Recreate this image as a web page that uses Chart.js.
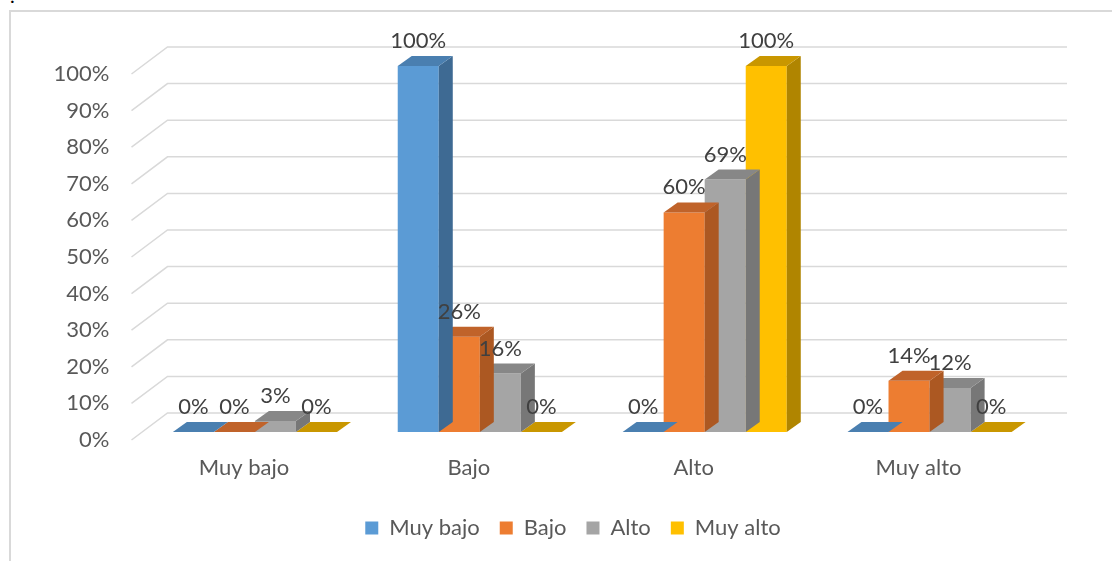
<!DOCTYPE html>
<html>
<head>
<meta charset="utf-8">
<script src="https://cdn.jsdelivr.net/npm/chart.js@4.4.0/dist/chart.umd.min.js"></script>
<style>
  html, body { margin: 0; padding: 0; background: #fff; overflow: hidden; }
  body { width: 1112px; height: 561px; position: relative; }
  #wrap { position: absolute; left: 0; top: 0; width: 1146px; height: 561px; }
  #frame { position: absolute; left: 9px; top: 10px; width: 1200px; height: 600px;
           border-left: 2px solid #d9d9d9; border-top: 2px solid #d9d9d9; }
  #dot { position: absolute; left: 10px; top: -17px; font: 20px Lato; color: #000; }
</style>
</head>
<body>
<div id="frame"></div>
<span id="dot">.</span>
<div id="wrap"><canvas id="chart" width="1146" height="561"></canvas></div>
<script>
const categories = ["Muy bajo", "Bajo", "Alto", "Muy alto"];
const seriesNames = ["Muy bajo", "Bajo", "Alto", "Muy alto"];
const muyBajo = [0, 100, 0, 0];
const bajo = [0, 26, 60, 14];
const alto = [3, 16, 69, 12];
const muyAlto = [0, 0, 100, 0];
const yTicks = [0, 10, 20, 30, 40, 50, 60, 70, 80, 90, 100];

const frontColors = ["#5b9bd5", "#ed7d31", "#a5a5a5", "#ffc000"];
const topColors = ["#4a7fb0", "#c0632a", "#878787", "#c99700"];
const sideColors = ["#3e6a93", "#ac5822", "#777777", "#b08500"];

const FONT = { family: "Lato", size: 22 };

// depth of each bar, and where the front / back walls sit relative to the bars
const DX = 14, DY = 10;

/* --------------------------------------
   3D LOOK: walls, bar tops/sides, labels
-------------------------------------- */
const fake3d = {
  id: "fake3d",
  beforeDatasetsDraw(chart) {
    const { ctx, chartArea, scales: { y } } = chart;
    ctx.save();
    ctx.strokeStyle = "#d9d9d9";
    ctx.lineWidth = 1.5;
    yTicks.forEach((v) => {
      const py = y.getPixelForValue(v);
      ctx.beginPath();
      ctx.moveTo(chartArea.left - 11, py + 8);
      ctx.lineTo(chartArea.left + 25, py - 19);
      ctx.lineTo(chartArea.right + 25, py - 19);
      ctx.stroke();
    });
    ctx.restore();
  },
  afterDatasetDraw(chart, args) {
    const { ctx } = chart;
    const i = args.index;
    ctx.save();
    args.meta.data.forEach((bar) => {
      const l = bar.x - bar.width / 2;
      const r = bar.x + bar.width / 2;
      const t = bar.y;
      const b = bar.base;

      ctx.fillStyle = sideColors[i];
      ctx.beginPath();
      ctx.moveTo(r, t);
      ctx.lineTo(r + DX, t - DY);
      ctx.lineTo(r + DX, b - DY);
      ctx.lineTo(r, b);
      ctx.closePath();
      ctx.fill();

      ctx.fillStyle = topColors[i];
      ctx.beginPath();
      ctx.moveTo(l, t);
      ctx.lineTo(l + DX, t - DY);
      ctx.lineTo(r + DX, t - DY);
      ctx.lineTo(r, t);
      ctx.closePath();
      ctx.fill();
    });
    ctx.restore();
  },
  afterDatasetsDraw(chart) {
    const { ctx } = chart;
    ctx.save();
    ctx.font = FONT.size + "px " + FONT.family;
    ctx.fillStyle = "#404040";
    ctx.textAlign = "center";
    ctx.textBaseline = "middle";
    chart.data.datasets.forEach((ds, i) => {
      chart.getDatasetMeta(i).data.forEach((bar, j) => {
        ctx.fillText(ds.data[j] + "%", bar.x, bar.y - 25);
      });
    });
    ctx.restore();
  },
};

const seriesData = [muyBajo, bajo, alto, muyAlto];

new Chart(document.getElementById("chart"), {
  type: "bar",
  data: {
    labels: categories,
    datasets: seriesNames.map((name, i) => ({
      label: name,
      data: seriesData[i],
      backgroundColor: frontColors[i],
      borderWidth: 0,
      barPercentage: 1,
      categoryPercentage: 0.73,
    })),
  },
  options: {
    responsive: false,
    animation: false,
    layout: { padding: { left: 0, right: 0, top: 66, bottom: 12 } },
    plugins: {
      tooltip: { enabled: false },
      legend: {
        position: "bottom",
        labels: {
          boxWidth: 13,
          boxHeight: 13,
          padding: 20,
          color: "#595959",
          font: FONT,
        },
      },
    },
    scales: {
      x: {
        grid: { display: false, drawTicks: false, tickLength: 0 },
        border: { display: false },
        ticks: {
          color: "#595959",
          font: FONT,
          padding: 23,
          labelOffset: -11,
        },
        afterFit: (scale) => { scale.height = 65; },
      },
      y: {
        min: 0,
        max: 100,
        grid: { display: false, drawTicks: false, tickLength: 0 },
        border: { display: false },
        ticks: {
          stepSize: 10,
          color: "#595959",
          font: FONT,
          padding: 33,
          labelOffset: 8,
          callback: (v) => v + "%",
        },
        afterFit: (scale) => { scale.width = 142.5; },
      },
      // empty right-hand space so the legend stays centred on the whole frame
      spacer: {
        position: "right",
        grid: { display: false, drawTicks: false },
        border: { display: false },
        ticks: { display: false },
        afterFit: (scale) => { scale.width = 104; },
      },
    },
  },
  plugins: [fake3d],
});
</script>
</body>
</html>
